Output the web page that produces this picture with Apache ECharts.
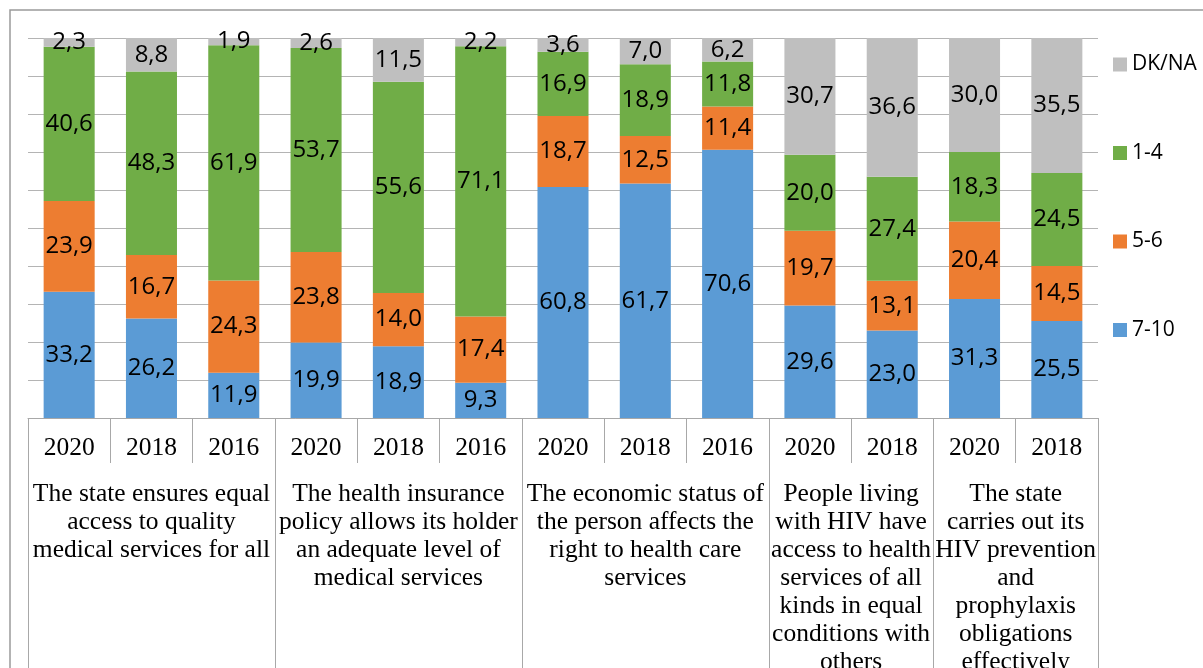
<!DOCTYPE html>
<html>
<head>
<meta charset="utf-8">
<script src="https://cdn.jsdelivr.net/npm/echarts@6/dist/echarts.min.js"></script>
<style>
  html, body { margin: 0; padding: 0; background: #fff; overflow: hidden; }
  #chart { width: 1203px; height: 668px; }
</style>
</head>
<body>
<div id="chart"></div>
<script>
// Survey years, one bar each
const years = ['2020', '2018', '2016', '2020', '2018', '2016', '2020', '2018', '2016', '2020', '2018', '2020', '2018'];

// Statements; each spans a run of bars (counts in groupSizes)
const groupNames = [
  'The state ensures equal\naccess to quality\nmedical services for all',
  'The health insurance\npolicy allows its holder\nan adequate level of\nmedical services',
  'The economic status of\nthe person affects the\nright to health care\nservices',
  'People living\nwith HIV have\naccess to health\nservices of all\nkinds in equal\nconditions with\nothers',
  'The state\ncarries out its\nHIV prevention\nand\nprophylaxis\nobligations\neffectively'
];
const groupSizes = [3, 3, 3, 2, 2];

// Shares of answers, per cent
const score7to10 = [33.2, 26.2, 11.9, 19.9, 18.9, 9.3, 60.8, 61.7, 70.6, 29.6, 23.0, 31.3, 25.5];
const score5to6  = [23.9, 16.7, 24.3, 23.8, 14.0, 17.4, 18.7, 12.5, 11.4, 19.7, 13.1, 20.4, 14.5];
const score1to4  = [40.6, 48.3, 61.9, 53.7, 55.6, 71.1, 16.9, 18.9, 11.8, 20.0, 27.4, 18.3, 24.5];
const scoreDKNA  = [2.3, 8.8, 1.9, 2.6, 11.5, 2.2, 3.6, 7.0, 6.2, 30.7, 36.6, 30.0, 35.5];

// Group boundaries and centres in bar units
const groupEdges = [0];
const groupCentres = [];
groupSizes.forEach(function (n) {
  const start = groupEdges[groupEdges.length - 1];
  groupCentres.push(start + n / 2);
  groupEdges.push(start + n);
});

const labelFont = 'Open Sans';
const serifFont = 'Liberation Serif';
const lineGrey = '#a8a8a8';

function barSeries(name, data, color) {
  return {
    name: name,
    type: 'bar',
    stack: 'total',
    data: data,
    barWidth: '62%',
    itemStyle: { color: color },
    label: {
      show: true,
      position: 'inside',
      color: '#000',
      fontFamily: labelFont,
      fontSize: 24,
      formatter: function (p) { return p.value.toFixed(1).replace('.', ','); }
    },
    emphasis: { disabled: true }
  };
}

const chart = echarts.init(document.getElementById('chart'), null, { renderer: 'canvas' });
chart.setOption({
  animation: false,
  backgroundColor: '#fff',
  graphic: [{
    type: 'rect',
    shape: { x: 10, y: 10, width: 1250, height: 700 },
    style: { fill: 'none', stroke: '#9a9a9a', lineWidth: 1.5 },
    silent: true
  }],
  grid: { left: 28, right: 105, top: 38, bottom: 250, outerBoundsMode: 'none', containLabel: false },
  legend: {
    orient: 'vertical',
    left: 1113,
    top: 54,
    padding: 0,
    itemWidth: 14,
    itemHeight: 14,
    itemGap: 67.5,
    icon: 'rect',
    data: ['DK/NA', '1-4', '5-6', '7-10'],
    textStyle: { fontFamily: labelFont, fontSize: 21, color: '#000', lineHeight: 20 }
  },
  xAxis: [
    {
      type: 'category',
      data: years,
      position: 'bottom',
      axisLine: { show: true, lineStyle: { color: lineGrey, width: 1 } },
      axisTick: { show: true, length: 45, lineStyle: { color: lineGrey, width: 1 } },
      axisLabel: {
        interval: 0,
        margin: 30,
        verticalAlign: 'middle',
        color: '#000',
        fontFamily: serifFont,
        fontSize: 25.5
      },
      splitLine: { show: false }
    },
    {
      type: 'value',
      min: 0,
      max: years.length,
      position: 'bottom',
      axisLine: { show: false },
      axisTick: {
        show: true,
        length: 260,
        customValues: groupEdges,
        lineStyle: { color: lineGrey, width: 1 }
      },
      axisLabel: {
        show: true,
        customValues: groupCentres,
        margin: 62,
        verticalAlign: 'top',
        align: 'center',
        lineHeight: 28,
        color: '#000',
        fontFamily: serifFont,
        fontSize: 25.5,
        formatter: function (v) {
          const i = groupCentres.indexOf(v);
          return i >= 0 ? groupNames[i] : '';
        }
      },
      splitLine: { show: false }
    }
  ],
  yAxis: {
    type: 'value',
    min: 0,
    max: 100,
    interval: 10,
    axisLine: { show: false },
    axisTick: { show: false },
    axisLabel: { show: false },
    splitLine: { show: true, lineStyle: { color: '#b4b4b4', width: 1 } }
  },
  series: [
    barSeries('7-10', score7to10, '#5B9BD5'),
    barSeries('5-6', score5to6, '#ED7D31'),
    barSeries('1-4', score1to4, '#70AD47'),
    barSeries('DK/NA', scoreDKNA, '#BFBFBF')
  ]
});
</script>
</body>
</html>
